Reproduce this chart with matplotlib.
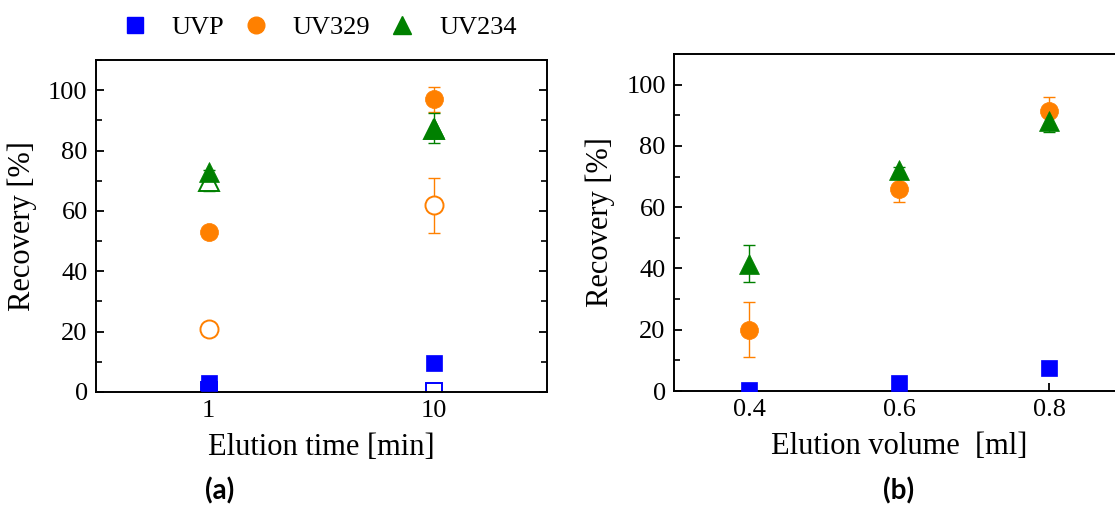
import matplotlib
matplotlib.use("Agg")
import matplotlib.pyplot as plt
from matplotlib.ticker import MultipleLocator
from matplotlib.lines import Line2D
import numpy as np

plt.rcParams['font.family'] = ['Liberation Serif', 'DejaVu Serif']

# panel (a): elution time
time_labels = ["1", "10"]
a_uvp = [3.1, 9.6]
a_uvp_err = [0, 0]
a_uv329 = [53, 97]
a_uv329_err = [0, 4.2]
a_uv234 = [72.8, 87.5]
a_uv234_err = [0, 5]
# open symbols in panel (a)
a_uvp_open = [0.5, 0.3]
a_uvp_open_err = [0, 1]
a_uv329_open = [21, 61.8]
a_uv329_open_err = [1.5, 9]
a_uv234_open = [70, 87]
a_uv234_open_err = [3.5, 0]

# panel (b): elution volume
volumes = [0.4, 0.6, 0.8]
b_uvp = [0.3, 2.5, 7.5]
b_uvp_err = [0, 0, 0]
b_uv329 = [20, 66, 91.5]
b_uv329_err = [9, 4.3, 4.4]
b_uv234 = [41.5, 72, 88]
b_uv234_err = [6, 1, 3.5]

blue = '#0000ff'
orange = '#ff8000'
green = '#008000'
styles = {'UVP': (blue, 's', 12), 'UV329': (orange, 'o', 13), 'UV234': (green, '^', 14)}


def draw(ax, x, y, err, name, filled=True):
    color, marker, ms = styles[name]
    x = np.asarray(x, float)
    y = np.asarray(y, float)
    err = np.asarray(err, float)
    m = err > 0
    if m.any():
        ax.errorbar(x[m], y[m], yerr=err[m], fmt='none', ecolor=color,
                    elinewidth=1, capsize=4, capthick=1, zorder=2)
    face = color if filled else 'white'
    ax.plot(x, y, linestyle='none', marker=marker, ms=ms, mfc=face,
            mec=color, mew=1.4 if not filled else 0.5, zorder=3 if filled else 2.5)


def style_axes(ax):
    for s in ax.spines.values():
        s.set_linewidth(1.4)
    ax.yaxis.set_major_locator(MultipleLocator(20))
    ax.yaxis.set_minor_locator(MultipleLocator(10))
    ax.tick_params(axis='both', which='major', direction='in', length=6,
                   width=1.3, labelsize=19, pad=6)
    ax.tick_params(axis='y', which='minor', direction='in', length=4, width=1.2)
    ax.tick_params(axis='y', which='both', right=True)
    ax.set_ylim(0, 110)
    ax.set_ylabel('Recovery [%]', fontsize=22, labelpad=8)


fig = plt.figure(figsize=(11.15, 5.11), dpi=100)

ax1 = fig.add_axes([0.0861, 0.2329, 0.4045, 0.6497])
xa = np.arange(1, len(time_labels) + 1)
draw(ax1, xa, a_uvp_open, a_uvp_open_err, 'UVP', filled=False)
draw(ax1, xa, a_uv329_open, a_uv329_open_err, 'UV329', filled=False)
draw(ax1, xa, a_uv234_open, a_uv234_open_err, 'UV234', filled=False)
draw(ax1, xa, a_uvp, a_uvp_err, 'UVP')
draw(ax1, xa, a_uv329, a_uv329_err, 'UV329')
draw(ax1, xa, a_uv234, a_uv234_err, 'UV234')
ax1.set_xlim(0.5, 2.5)
ax1.set_xticks(xa)
ax1.set_xticklabels(time_labels)
style_axes(ax1)
ax1.set_xlabel('Elution time [min]', fontsize=22, labelpad=8)

ax2 = fig.add_axes([0.6045, 0.2348, 0.4036, 0.6595])
draw(ax2, volumes, b_uvp, b_uvp_err, 'UVP')
draw(ax2, volumes, b_uv329, b_uv329_err, 'UV329')
draw(ax2, volumes, b_uv234, b_uv234_err, 'UV234')
ax2.set_xlim(0.3, 0.9)
ax2.set_xticks(volumes)
ax2.set_xticklabels(['0.4', '0.6', '0.8'])
style_axes(ax2)
ax2.set_xlabel('Elution volume  [ml]', fontsize=22, labelpad=8)

handles = [Line2D([], [], linestyle='none', marker=styles[k][1], ms=styles[k][2] - 1,
                  color=styles[k][0], mec=styles[k][0]) for k in styles]
fig.legend(handles, list(styles.keys()), loc='center', ncol=3,
           bbox_to_anchor=(0.285, 0.947), frameon=False, fontsize=19,
           handletextpad=0.8, columnspacing=0.6, handlelength=1.2)

fig.text(0.197, 0.04, '(a)', fontsize=20, fontweight='bold', family=['Lato', 'DejaVu Sans'],
         ha='center', va='center')
fig.text(0.806, 0.04, '(b)', fontsize=20, fontweight='bold', family=['Lato', 'DejaVu Sans'],
         ha='center', va='center')

fig.savefig('out.png', dpi=100)
